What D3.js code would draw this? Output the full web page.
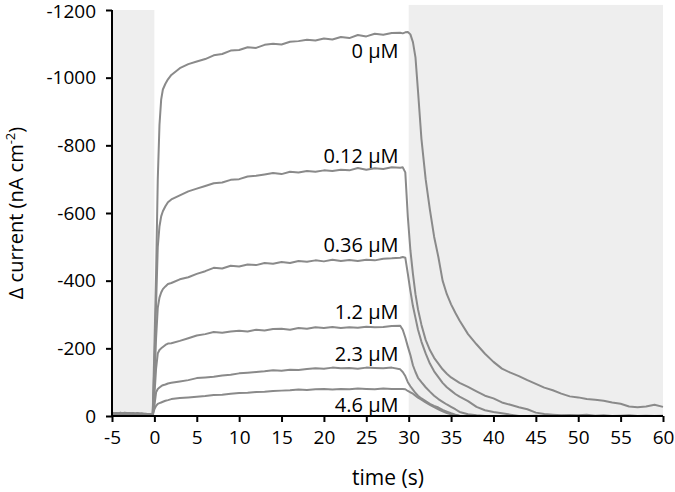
<!DOCTYPE html>
<html>
<head>
<meta charset="utf-8">
<script src="https://cdn.jsdelivr.net/npm/d3@7"></script>
<style>
  html, body { margin: 0; padding: 0; background: #fff; }
  svg { display: block; }
  text { font-family: "Open Sans", "DejaVu Sans", sans-serif; fill: #000; }
</style>
</head>
<body>
<svg id="chart" width="675" height="492"></svg>
<script>
// ---------------- DATA ----------------
const time = [
  -5, -4.5, -4, -3.5, -3, -2.5, -2, -1.5, -1, -0.5, -0.2,
  0, 0.2, 0.4, 0.6, 0.8, 1.0, 1.3, 1.6, 2,
  3, 4, 5, 6, 7, 8, 9, 10, 11, 12, 13, 14, 15, 16, 17, 18, 19, 20, 21, 22, 23, 24, 25, 26, 27, 28, 29,
  29.3, 29.6, 29.9, 30.2, 30.5, 30.8, 31.1, 31.5, 32, 32.5, 33, 33.5, 34, 34.5, 35, 35.5, 36,
  37, 38, 39, 40, 41, 42, 43, 44, 45, 46, 47, 48, 49, 50, 51, 52, 53, 54, 55, 56, 57, 58, 59, 60
];

const seriesNames = ["0 \u03BCM", "0.12 \u03BCM", "0.36 \u03BCM", "1.2 \u03BCM", "2.3 \u03BCM", "4.6 \u03BCM"];

const current_0 = [
  -6, -9, -7, -10, -8, -6, -9, -7, -5, -6, -4,
  -200, -420, -700, -860, -935, -965, -982, -995, -1008,
  -1028, -1040, -1048, -1055, -1066, -1070, -1080, -1082, -1090, -1088, -1097, -1100, -1098, -1106, -1108, -1112, -1110, -1116, -1113, -1120, -1117, -1126, -1122, -1130, -1127, -1132, -1133,
  -1131, -1134, -1135, -1128, -1105, -1060, -960, -820, -700, -610, -530, -470, -400, -360, -330, -305, -282,
  -242, -212, -184, -160, -140, -128, -118, -106, -95, -84, -76, -66, -58, -55, -50, -48, -45, -40, -36, -28, -26, -28, -33, -27
];
const current_012 = [
  -8, -5, -10, -6, -9, -7, -4, -8, -6, -3, -4,
  -150, -330, -500, -560, -590, -605, -620, -632, -640,
  -652, -664, -672, -680, -688, -690, -698, -700, -708, -710, -714, -718, -715, -722, -720, -724, -722, -726, -724, -728, -726, -733, -728, -732, -730, -735, -734,
  -735, -720, -588, -490, -420, -360, -315, -270, -225, -195, -172, -155, -138, -125, -114, -106, -98,
  -86, -73, -60, -52, -40, -33, -26, -20, -10, -6, -4, -2, -3, -2, -4, -1, -2, 0, -1, -2, 0, -1, 0, -1
];
const current_036 = [
  -4, -7, -5, -8, -6, -9, -5, -6, -4, -5, -3,
  -100, -230, -320, -350, -365, -375, -383, -390, -393,
  -404, -410, -420, -428, -438, -436, -444, -442, -448, -446, -452, -450, -455, -452, -458, -456, -460, -457, -462, -458, -461, -458, -462, -460, -465, -466, -468,
  -470, -468, -420, -370, -325, -290, -255, -220, -185, -155, -132, -115, -98, -85, -75, -65, -57,
  -44, -27, -17, -12, -8, -4, 0, 0, -1, 0, 0, -1, 0, 0, 0, 0, 0, 0, 0, 0, 0, 0, 0, 0
];
const current_12 = [
  -10, -7, -9, -5, -7, -4, -8, -5, -7, -4, -2,
  -60, -140, -185, -195, -200, -204, -210, -214, -215,
  -222, -230, -238, -242, -248, -246, -250, -252, -250, -255, -253, -257, -258, -255, -260, -258, -262, -260, -263, -260, -262, -261, -264, -262, -263, -266, -267,
  -255, -232, -205, -180, -150, -130, -113, -100, -85, -72, -60, -50, -42, -34, -27, -20, -12,
  -5, -2, 0, 0, 0, 0, 0, 0, 0, 0, 0, 0, 0, 0, 0, 0, 0, 0, 0, 0, 0, 0, 0, 0
];
const current_23 = [
  -5, -8, -6, -4, -9, -6, -7, -3, -5, -4, -3,
  -30, -70, -80, -84, -88, -91, -93, -96, -98,
  -102, -106, -112, -114, -116, -120, -122, -126, -128, -130, -132, -135, -134, -137, -136, -139, -141, -140, -143, -141, -142, -140, -143, -142, -141, -143, -138,
  -130, -118, -100, -88, -78, -68, -60, -52, -44, -36, -30, -25, -18, -13, -8, -4, -1,
  0, 0, 0, 0, 0, 0, 0, 0, 0, 0, 0, 0, 0, 0, 0, 0, 0, 0, 0, 0, 0, 0, 0, 0
];
const current_46 = [
  -7, -4, -8, -6, -5, -8, -4, -6, -3, -5, -2,
  -20, -30, -36, -38, -40, -42, -45, -47, -50,
  -53, -55, -57, -59, -62, -63, -66, -68, -69, -71, -72, -74, -75, -76, -78, -77, -79, -80, -78, -80, -79, -81, -80, -79, -81, -80, -80,
  -80, -79, -74, -70, -66, -60, -54, -48, -40, -33, -26, -20, -14, -9, -5, -2, 0,
  0, 0, 0, 0, 0, 0, 0, 0, 0, 0, 0, 0, 0, 0, 0, 0, 0, 0, 0, 0, 0, 0, 0, 0
];
const seriesValues = [current_0, current_012, current_036, current_12, current_23, current_46];

// label anchors (time, current) for each series label
const labelTime = [28.8, 28.8, 28.8, 28.8, 28.8, 28.8];
const labelCurrent = [-1058, -748, -485, -287, -163, -12];

const xTicks = [-5, 0, 5, 10, 15, 20, 25, 30, 35, 40, 45, 50, 55, 60];
const yTicks = [0, -200, -400, -600, -800, -1000, -1200];
const yTickLabels = ["0", "-200", "-400", "-600", "-800", "-1000", "-1200"];

// shaded (no analyte / wash) periods: [start, end, top current]
const shadeStart = [-5, 30];
const shadeEnd = [0, 60];
const shadeTop = [-1200, -1215];

// ---------------- CHART ----------------
const svg = d3.select("#chart");
const x = d3.scaleLinear().domain([-5, 60]).range([112, 663]);
const y = d3.scaleLinear().domain([0, -1200]).range([416, 10]);

// shaded regions
svg.append("g").selectAll("rect")
  .data(shadeStart.map((s, i) => ({ s, e: shadeEnd[i], top: shadeTop[i] })))
  .join("rect")
  .attr("x", d => x(d.s))
  .attr("width", d => x(d.e) - x(d.s))
  .attr("y", d => y(d.top))
  .attr("height", d => y(0) - y(d.top))
  .attr("fill", "#eeeeee");

// lines
const line = d3.line()
  .x((d, i) => x(time[i]))
  .y(d => y(d));

svg.append("g").selectAll("path")
  .data(seriesValues)
  .join("path")
  .attr("d", d => line(d))
  .attr("fill", "none")
  .attr("stroke", "#8a8a8a")
  .attr("stroke-width", 2)
  .attr("stroke-linejoin", "round");

// series labels
svg.append("g").selectAll("text")
  .data(seriesNames)
  .join("text")
  .attr("x", (d, i) => x(labelTime[i]))
  .attr("y", (d, i) => y(labelCurrent[i]))
  .attr("text-anchor", "end")
  .attr("font-size", 20)
  .text(d => d);

// axes
const xAxis = d3.axisBottom(x).tickValues(xTicks).tickSize(6).tickPadding(9).tickFormat(d => String(d));
const gx = svg.append("g").attr("transform", `translate(0,${y(0)})`).call(xAxis);
const yAxis = d3.axisLeft(y).tickValues(yTicks).tickSize(6).tickPadding(10)
  .tickFormat(d => yTickLabels[yTicks.indexOf(d)]);
const gy = svg.append("g").attr("transform", `translate(${x(-5)},0)`).call(yAxis);

[gx, gy].forEach(g => {
  g.select(".domain").attr("stroke", "#000").attr("stroke-width", 2);
  g.selectAll(".tick line").attr("stroke", "#000").attr("stroke-width", 2);
  g.selectAll(".tick text").attr("font-size", 19).attr("font-family", "'Open Sans', sans-serif").attr("fill", "#000");
});
gx.select(".domain").attr("d", `M${x(-5)},0H${x(60)}`);
gy.select(".domain").attr("d", `M0,${y(0)}V${y(-1200)}`);
// keep the top tick label fully inside the picture
gy.selectAll(".tick text").filter(d => d === -1200).attr("dy", "0.42em");

// axis titles
svg.append("text")
  .attr("x", 388)
  .attr("y", 485)
  .attr("text-anchor", "middle")
  .attr("font-size", 21)
  .text("time (s)");

const yt = svg.append("text")
  .attr("transform", "translate(23,213) rotate(-90)")
  .attr("text-anchor", "middle")
  .attr("font-size", 20);
yt.append("tspan").text("\u0394 current (nA cm");
yt.append("tspan").attr("font-size", 13).attr("dy", -8).text("-2");
yt.append("tspan").attr("dy", 8).text(")");
</script>
</body>
</html>
